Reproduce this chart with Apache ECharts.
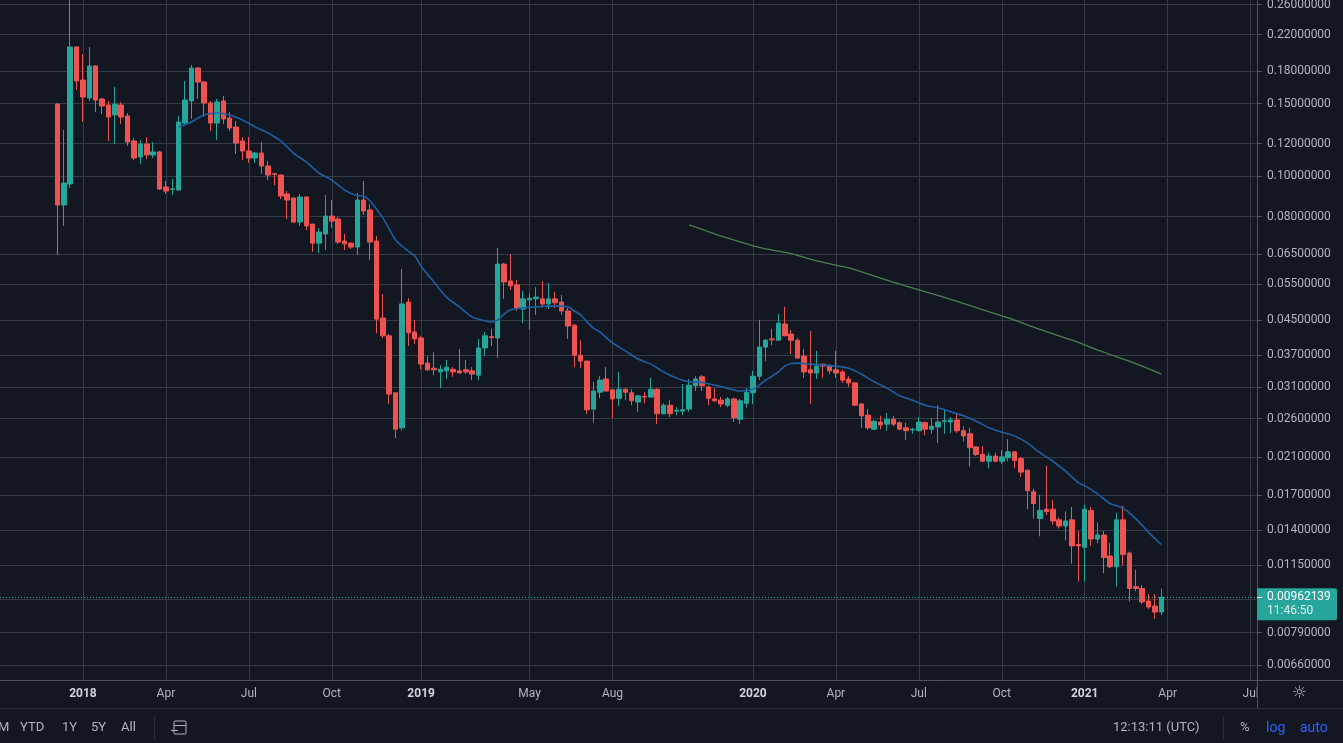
<!DOCTYPE html>
<html>
<head>
<meta charset="utf-8">
<script src="https://cdn.jsdelivr.net/npm/echarts@6/dist/echarts.min.js"></script>
<style>
html,body{margin:0;padding:0;background:#131722;overflow:hidden}
#c{width:1343px;height:743px}
</style>
</head>
<body>
<div id="c"></div>
<script>
// ---------- DATA ----------
// first weekly candle
const firstCandleDate = '2017-12-04';
// weekly [open, close, low, high]
const ohlc = [
[0.1496,0.0853,0.0646,0.1505],[0.0853,0.0964,0.0759,0.1295],[0.0959,0.2055,0.0938,0.28],[0.2055,0.1701,0.1618,0.2066],
[0.1710,0.1556,0.1354,0.1976],[0.1547,0.1849,0.1522,0.2055],[0.1849,0.1530,0.1431,0.1859],[0.1539,0.1480,0.1415,0.1547],
[0.1488,0.1392,0.1218,0.1522],[0.1408,0.1496,0.1198,0.1645],[0.1488,0.1392,0.1339,0.1513],[0.1400,0.1211,0.1184,0.1423],
[0.1218,0.1108,0.1096,0.1238],[0.1114,0.1198,0.1072,0.1225],[0.1198,0.1127,0.1102,0.1245],[0.1127,0.1146,0.1108,0.1211],
[0.1146,0.0932,0.0927,0.1152],[0.0943,0.0922,0.0907,0.0975],[0.0930,0.0933,0.0902,0.0986],[0.0927,0.1354,0.0925,0.1400],
[0.1346,0.1530,0.1340,0.1701],[0.1522,0.1828,0.1377,0.1859],[0.1828,0.1691,0.1539,0.1838],[0.1691,0.1505,0.1392,0.1701],
[0.1505,0.1346,0.1288,0.1522],[0.1346,0.1513,0.1225,0.1539],[0.1522,0.1377,0.1339,0.1564],[0.1384,0.1309,0.1288,0.1431],
[0.1317,0.1204,0.1133,0.1361],[0.1218,0.1152,0.1096,0.1245],[0.1152,0.1108,0.1078,0.1245],[0.1108,0.1139,0.1078,0.1146],
[0.1139,0.1060,0.1014,0.1211],[0.1060,0.1008,0.0980,0.1090],[0.1016,0.1012,0.0953,0.1019],[0.1008,0.0897,0.0882,0.1010],
[0.0907,0.0877,0.0789,0.0922],[0.0887,0.0776,0.0772,0.0888],[0.0776,0.0892,0.0759,0.0907],[0.0892,0.0759,0.0742,0.0893],
[0.0767,0.0690,0.0657,0.0768],[0.0690,0.0734,0.0653,0.0751],[0.0726,0.0802,0.0664,0.0902],[0.0802,0.0780,0.0751,0.0877],
[0.0789,0.0694,0.0687,0.0798],[0.0698,0.0687,0.0664,0.0726],[0.0690,0.0675,0.0668,0.0694],[0.0675,0.0877,0.0646,0.0912],
[0.0877,0.0825,0.0807,0.0975],[0.0830,0.0694,0.0628,0.0858],[0.0698,0.0452,0.0418,0.0718],[0.0455,0.0412,0.0407,0.0520],
[0.0412,0.0298,0.0282,0.0416],[0.0300,0.0245,0.0233,0.0300],[0.0247,0.0492,0.0243,0.0597],[0.0497,0.0419,0.0389,0.0508],
[0.0421,0.0405,0.0394,0.0450],[0.0407,0.0352,0.0342,0.0412],[0.0354,0.0341,0.0339,0.0368],[0.0344,0.0341,0.0331,0.0376],
[0.0337,0.0342,0.0308,0.0350],[0.0339,0.0346,0.0324,0.0360],[0.0342,0.0337,0.0328,0.0346],[0.0339,0.0335,0.0334,0.0383],
[0.0341,0.0337,0.0333,0.0360],[0.0339,0.0333,0.0322,0.0346],[0.0331,0.0385,0.0322,0.0405],[0.0385,0.0412,0.0368,0.0421],
[0.0410,0.0408,0.0389,0.0428],[0.0407,0.0614,0.0364,0.0672],[0.0614,0.0556,0.0506,0.0618],[0.0559,0.0544,0.0532,0.0649],
[0.0547,0.0481,0.0473,0.0562],[0.0478,0.0506,0.0442,0.0529],[0.0503,0.0508,0.0426,0.0523],[0.0506,0.0511,0.0463,0.0540],
[0.0506,0.0492,0.0484,0.0559],[0.0492,0.0506,0.0478,0.0553],[0.0506,0.0495,0.0481,0.0526],[0.0497,0.0473,0.0463,0.0517],
[0.0473,0.0435,0.0405,0.0481],[0.0437,0.0370,0.0346,0.0440],[0.0370,0.0358,0.0344,0.0402],[0.0358,0.0273,0.0267,0.0359],
[0.0274,0.0303,0.0254,0.0319],[0.0301,0.0322,0.0291,0.0329],[0.0324,0.0303,0.0302,0.0346],[0.0305,0.0290,0.0261,0.0305],
[0.0291,0.0306,0.0279,0.0337],[0.0306,0.0301,0.0288,0.0308],[0.0300,0.0287,0.0280,0.0306],[0.0285,0.0295,0.0270,0.0296],
[0.0294,0.0293,0.0283,0.0301],[0.0293,0.0306,0.0292,0.0326],[0.0306,0.0267,0.0252,0.0308],[0.0267,0.0280,0.0266,0.0283],
[0.0280,0.0267,0.0262,0.0288],[0.0271,0.0272,0.0265,0.0277],[0.0271,0.0273,0.0265,0.0315],[0.0274,0.0313,0.0270,0.0324],
[0.0312,0.0324,0.0303,0.0329],[0.0328,0.0312,0.0303,0.0331],[0.0310,0.0291,0.0280,0.0312],[0.0290,0.0287,0.0285,0.0308],
[0.0288,0.0282,0.0277,0.0293],[0.0280,0.0290,0.0277,0.0293],[0.0290,0.0261,0.0255,0.0292],[0.0259,0.0287,0.0252,0.0290],
[0.0283,0.0301,0.0276,0.0308],[0.0300,0.0329,0.0282,0.0339],[0.0329,0.0387,0.0322,0.0450],[0.0387,0.0402,0.0358,0.0405],
[0.0405,0.0403,0.0391,0.0428],[0.0402,0.0442,0.0401,0.0465],[0.0440,0.0412,0.0411,0.0484],[0.0416,0.0402,0.0372,0.0426],
[0.0402,0.0364,0.0363,0.0407],[0.0368,0.0337,0.0326,0.0383],[0.0341,0.0335,0.0282,0.0423],[0.0335,0.0348,0.0324,0.0379],
[0.0352,0.0348,0.0326,0.0353],[0.0348,0.0339,0.0333,0.0352],[0.0341,0.0335,0.0326,0.0379],[0.0337,0.0322,0.0317,0.0341],
[0.0324,0.0317,0.0310,0.0329],[0.0317,0.0280,0.0279,0.0319],[0.0282,0.0264,0.0247,0.0283],[0.0265,0.0247,0.0244,0.0274],
[0.0245,0.0256,0.0244,0.0258],[0.0255,0.0251,0.0245,0.0264],[0.0252,0.0259,0.0243,0.0268],[0.0259,0.0252,0.0249,0.0264],
[0.0254,0.0245,0.0244,0.0256],[0.0247,0.0243,0.0231,0.0254],[0.0244,0.0245,0.0239,0.0247],[0.0243,0.0255,0.0242,0.0262],
[0.0254,0.0245,0.0237,0.0256],[0.0245,0.0249,0.0239,0.0261],[0.0248,0.0255,0.0227,0.0280],[0.0256,0.0257,0.0239,0.0274],
[0.0255,0.0258,0.0240,0.0262],[0.0258,0.0243,0.0240,0.0267],[0.0243,0.0236,0.0229,0.0249],[0.0239,0.0221,0.0199,0.0247],
[0.0222,0.0213,0.0211,0.0223],[0.0213,0.0205,0.0204,0.0223],[0.0205,0.0211,0.0197,0.0215],[0.0211,0.0205,0.0204,0.0215],
[0.0205,0.0210,0.0202,0.0218],[0.0209,0.0216,0.0205,0.0232],[0.0216,0.0206,0.0197,0.0217],[0.0208,0.0193,0.0188,0.0210],
[0.0195,0.0174,0.0157,0.0196],[0.0173,0.0162,0.0149,0.0176],[0.0149,0.0156,0.0135,0.0170],[0.0157,0.0155,0.0152,0.0200],
[0.0157,0.0147,0.0144,0.0165],[0.0148,0.0143,0.0141,0.0150],[0.0143,0.0147,0.0132,0.0155],[0.0148,0.0128,0.0116,0.0159],
[0.0129,0.0128,0.0105,0.0139],[0.0127,0.0157,0.0105,0.0161],[0.0156,0.0133,0.0128,0.0159],[0.0133,0.0136,0.0130,0.0146],
[0.0136,0.0120,0.0110,0.0139],[0.0121,0.0114,0.0113,0.0130],[0.0114,0.0148,0.0102,0.0154],[0.0148,0.0122,0.0115,0.0160],
[0.0123,0.0101,0.0094,0.0124],[0.0102,0.0101,0.00995,0.0112],[0.0101,0.00937,0.00926,0.0103],[0.00942,0.00911,0.00901,0.00979],
[0.00916,0.00886,0.00852,0.00979],[0.00886,0.00962139,0.00871,0.0101]
];
// blue moving average: [weeks since 2018-01-01, value]
const maBlue = [
[15,0.1317],[17,0.1354],[19,0.1408],[21,0.1423],[23,0.1408],[25,0.1369],[27,0.1317],[29,0.1273],[31,0.1218],[33,0.1139],
[35,0.1084],[37,0.1019],[39,0.0980],[41,0.0927],[43,0.0899],[44,0.0897],[45,0.0872],[46,0.0834],[47,0.0794],[48,0.0746],
[49,0.0702],[50,0.0679],[51,0.0660],[52,0.0642],[53,0.0607],[55,0.0556],[57,0.0511],[59,0.0484],[61,0.0457],[62,0.0452],
[64,0.0445],[65,0.0450],[66,0.0465],[67,0.0476],[69,0.0481],[71,0.0484],[73,0.0486],[75,0.0486],[76,0.0484],[77,0.0473],
[78,0.0463],[79,0.0445],[80,0.0430],[81,0.0421],[83,0.0396],[85,0.0379],[87,0.0362],[89,0.0352],[91,0.0337],[93,0.0326],
[95,0.0319],[97,0.0318],[99,0.0313],[101,0.0308],[103,0.0303],[105,0.0306],[106,0.0313],[107,0.0322],[108,0.0329],[109,0.0337],
[110,0.0348],[111,0.0353],[112,0.0354],[114,0.0352],[116,0.0350],[118,0.0348],[120,0.0344],[121,0.0339],[122,0.0333],[124,0.0319],
[126,0.0308],[128,0.0295],[130,0.0288],[132,0.0280],[134,0.0276],[136,0.0270],[138,0.0264],[140,0.0256],[142,0.0247],[144,0.0241],
[146,0.0236],[148,0.0227],[150,0.0215],[152,0.0205],[154,0.0194],[156,0.0182],[157,0.0179],[159,0.0171],[161,0.0162],[162,0.0160],
[163,0.0158],[165,0.0149],[167,0.0138],[169,0.0129]
];
// green long moving average: [weeks since 2018-01-01, value]
const maGreen = [
[95,0.0764],[98,0.0736],[101,0.0710],[105,0.0680],[108,0.0664],[111,0.0651],[115,0.0625],[120,0.0601],[125,0.0568],
[131,0.0532],[135,0.0510],[140,0.0482],[145,0.0455],[150,0.0427],[155,0.0402],[160,0.0376],[165,0.0353],[169,0.0333]
];
// price axis ticks
const yTicks = [0.26,0.22,0.18,0.15,0.12,0.10,0.08,0.065,0.055,0.045,0.037,0.031,0.026,0.021,0.017,0.014,0.0115,0.0095,0.0079,0.0066];
const yHiddenLabels = [0.0095];
const yMin = 0.00607, yMax = 0.2669;
// time axis labels
const xTickDates = ['2018-01-01','2018-04-02','2018-07-02','2018-10-01','2019-01-07','2019-05-06','2019-08-05',
  '2020-01-06','2020-04-06','2020-07-06','2020-10-05','2021-01-04','2021-04-05','2021-07-05'];
const xTickText = ['2018','Apr','Jul','Oct','2019','May','Aug','2020','Apr','Jul','Oct','2021','Apr','Jul'];
const axisStartDate = '2017-10-02';
const weekCount = 198;
const lastTimeText = '11:46:50';

// ---------- BUILD ----------
const FONT = 'Roboto, "Liberation Sans", sans-serif';
const W = 1343, H = 743, GRID_RIGHT = 86, GRID_BOTTOM = 63;
const WEEK = 7 * 864e5;
const fmt = d => d.toISOString().slice(0, 10);
const t0 = Date.parse(axisStartDate + 'T00:00:00Z');
const cats = [];
for (let k = 0; k < weekCount; k++) cats.push(fmt(new Date(t0 + k * WEEK)));
const k2018 = cats.indexOf('2018-01-01');
const kFirst = cats.indexOf(firstCandleDate);
const labelMap = {};
xTickDates.forEach((d, i) => { labelMap[d] = xTickText[i]; });
const isTick = (i, v) => Object.prototype.hasOwnProperty.call(labelMap, v);

const candleRows = ohlc.map((r, i) => [cats[kFirst + i], r[0], r[1], r[2], r[3]]);
const blueData = maBlue.map(([w, v]) => [cats[k2018 + w], v]);
const greenData = maGreen.map(([w, v]) => [cats[k2018 + w], v]);
const lastPrice = ohlc[ohlc.length - 1][1];
const L10 = v => Math.log10(v);

const chart = echarts.init(document.getElementById('c'), null, {renderer: 'canvas', width: W, height: H});
chart.setOption({
  animation: false,
  backgroundColor: '#131722',
  textStyle: {fontFamily: FONT},
  grid: {left: 0, right: GRID_RIGHT, top: 0, bottom: GRID_BOTTOM, containLabel: false, outerBoundsMode: 'none'},
  xAxis: {
    type: 'category', data: cats, boundaryGap: false,
    axisLine: {show: true, lineStyle: {color: '#50535e', width: 1}},
    axisTick: {show: false},
    axisLabel: {
      interval: isTick, color: '#b2b5be', fontSize: 12, margin: 8, fontFamily: FONT,
      formatter: v => { const t = labelMap[v] || ''; return /^\d{4}$/.test(t) ? '{y|' + t + '}' : t; },
      rich: {y: {fontWeight: 'bold', color: '#d1d4dc', fontSize: 12, fontFamily: FONT}}
    },
    splitLine: {show: true, interval: isTick, lineStyle: {color: '#363a45', width: 1}}
  },
  yAxis: [
    {
      type: 'log', logBase: 10, position: 'right', min: yMin, max: yMax,
      axisLine: {show: true, lineStyle: {color: '#50535e', width: 1}},
      axisTick: {show: false}, axisLabel: {show: false},
      splitLine: {show: false}, minorSplitLine: {show: false}
    },
    {
      type: 'value', position: 'right', min: L10(yMin), max: L10(yMax),
      axisLine: {show: false},
      axisTick: {show: true, length: 5, customValues: yTicks.map(L10), lineStyle: {color: '#50535e'}},
      axisLabel: {
        customValues: yTicks.filter(v => yHiddenLabels.indexOf(v) < 0).map(L10),
        formatter: v => Math.pow(10, v).toFixed(8),
        color: '#b2b5be', fontSize: 12, margin: 10, fontFamily: FONT
      },
      splitLine: {show: true, lineStyle: {color: '#363a45', width: 1}}
    }
  ],
  series: [
    {
      type: 'candlestick', name: 'price', xAxisIndex: 0, yAxisIndex: 0,
      data: candleRows, encode: {x: 0, y: [1, 2, 3, 4]},
      barWidth: 5, clip: true, z: 2,
      itemStyle: {color: '#26a69a', color0: '#ef5350', borderColor: '#26a69a', borderColor0: '#ef5350', borderWidth: 1}
    },
    {
      type: 'line', name: 'MA blue', yAxisIndex: 0, data: blueData, symbol: 'none', smooth: 0.3, z: 3,
      lineStyle: {color: '#1f5fa3', width: 1.6}
    },
    {
      type: 'line', name: 'MA green', yAxisIndex: 0, data: greenData, symbol: 'none', smooth: 0.3, z: 3,
      lineStyle: {color: '#4f7d55', width: 1.3}
    }
  ]
});

// ---------- chrome + last price line and tag ----------
const axisX = W - GRID_RIGHT;
const axisY = H - GRID_BOTTOM;
// pixel row of the last close, from the linear log10 helper axis (same grid)
const py = chart.convertToPixel({yAxisIndex: 1}, L10(lastPrice));
const pyLine = Math.round(py) + 0.5;
const txt = (x, y, s, fill, size, extra) => Object.assign({
  type: 'text', x: x, y: y, silent: true, z: 100,
  style: {text: s, fill: fill || '#b2b5be', font: (size || 13) + 'px ' + FONT, verticalAlign: 'middle'}
}, extra || {});
const line = (x1, y1, x2, y2, c, dash) => ({type: 'line', silent: true, z: 100, shape: {x1, y1, x2, y2},
  style: {stroke: c, lineWidth: 1, lineDash: dash || null}});
chart.setOption({
  graphic: [
    line(axisX, axisY + 0.5, W, axisY + 0.5, '#50535e'),
    line(axisX + 0.5, axisY, axisX + 0.5, 708, '#50535e'),
    line(0, 708.5, W, 708.5, '#2a2e39'),
    {type: 'text', x: 1292, y: 694, silent: true, z: 100, style: {text: '\u263C', fill: '#b2b5be', font: '17px "DejaVu Sans"', verticalAlign: 'middle'}},
    // bottom toolbar
    txt(-2, 728, 'M'),
    txt(20, 728, 'YTD'),
    txt(62, 728, '1Y'),
    txt(91, 728, '5Y'),
    txt(121, 728, 'All'),
    line(154.5, 717, 154.5, 740, '#2a2e39'),
    {type: 'rect', silent: true, z: 100, shape: {x: 174, y: 721, width: 12, height: 13, r: 1}, style: {fill: 'none', stroke: '#b2b5be', lineWidth: 1}},
    line(174, 725.5, 186, 725.5, '#b2b5be'),
    line(171, 730.5, 178, 730.5, '#b2b5be'),
    txt(1113, 728, '12:13:11 (UTC)'),
    line(1223.5, 717, 1223.5, 740, '#2a2e39'),
    txt(1240, 728, '%'),
    txt(1266, 728, 'log', '#2962ff', 14),
    txt(1300, 728, 'auto', '#2962ff', 14),
    // last price dotted line
    line(0, pyLine, axisX, pyLine, '#26a69a', [1, 2]),
    // last price tag
    {type: 'rect', silent: true, z: 100, shape: {x: axisX, y: py - 9, width: 80, height: 32, r: [0, 2, 2, 0]}, style: {fill: '#26a69a'}},
    line(axisX, pyLine, axisX + 5, pyLine, '#ffffff'),
    txt(axisX + 10, py, lastPrice.toFixed(8), '#ffffff', 12),
    txt(axisX + 10, py + 14, lastTimeText, 'rgba(255,255,255,0.85)', 12)
  ]
});
</script>
</body>
</html>
